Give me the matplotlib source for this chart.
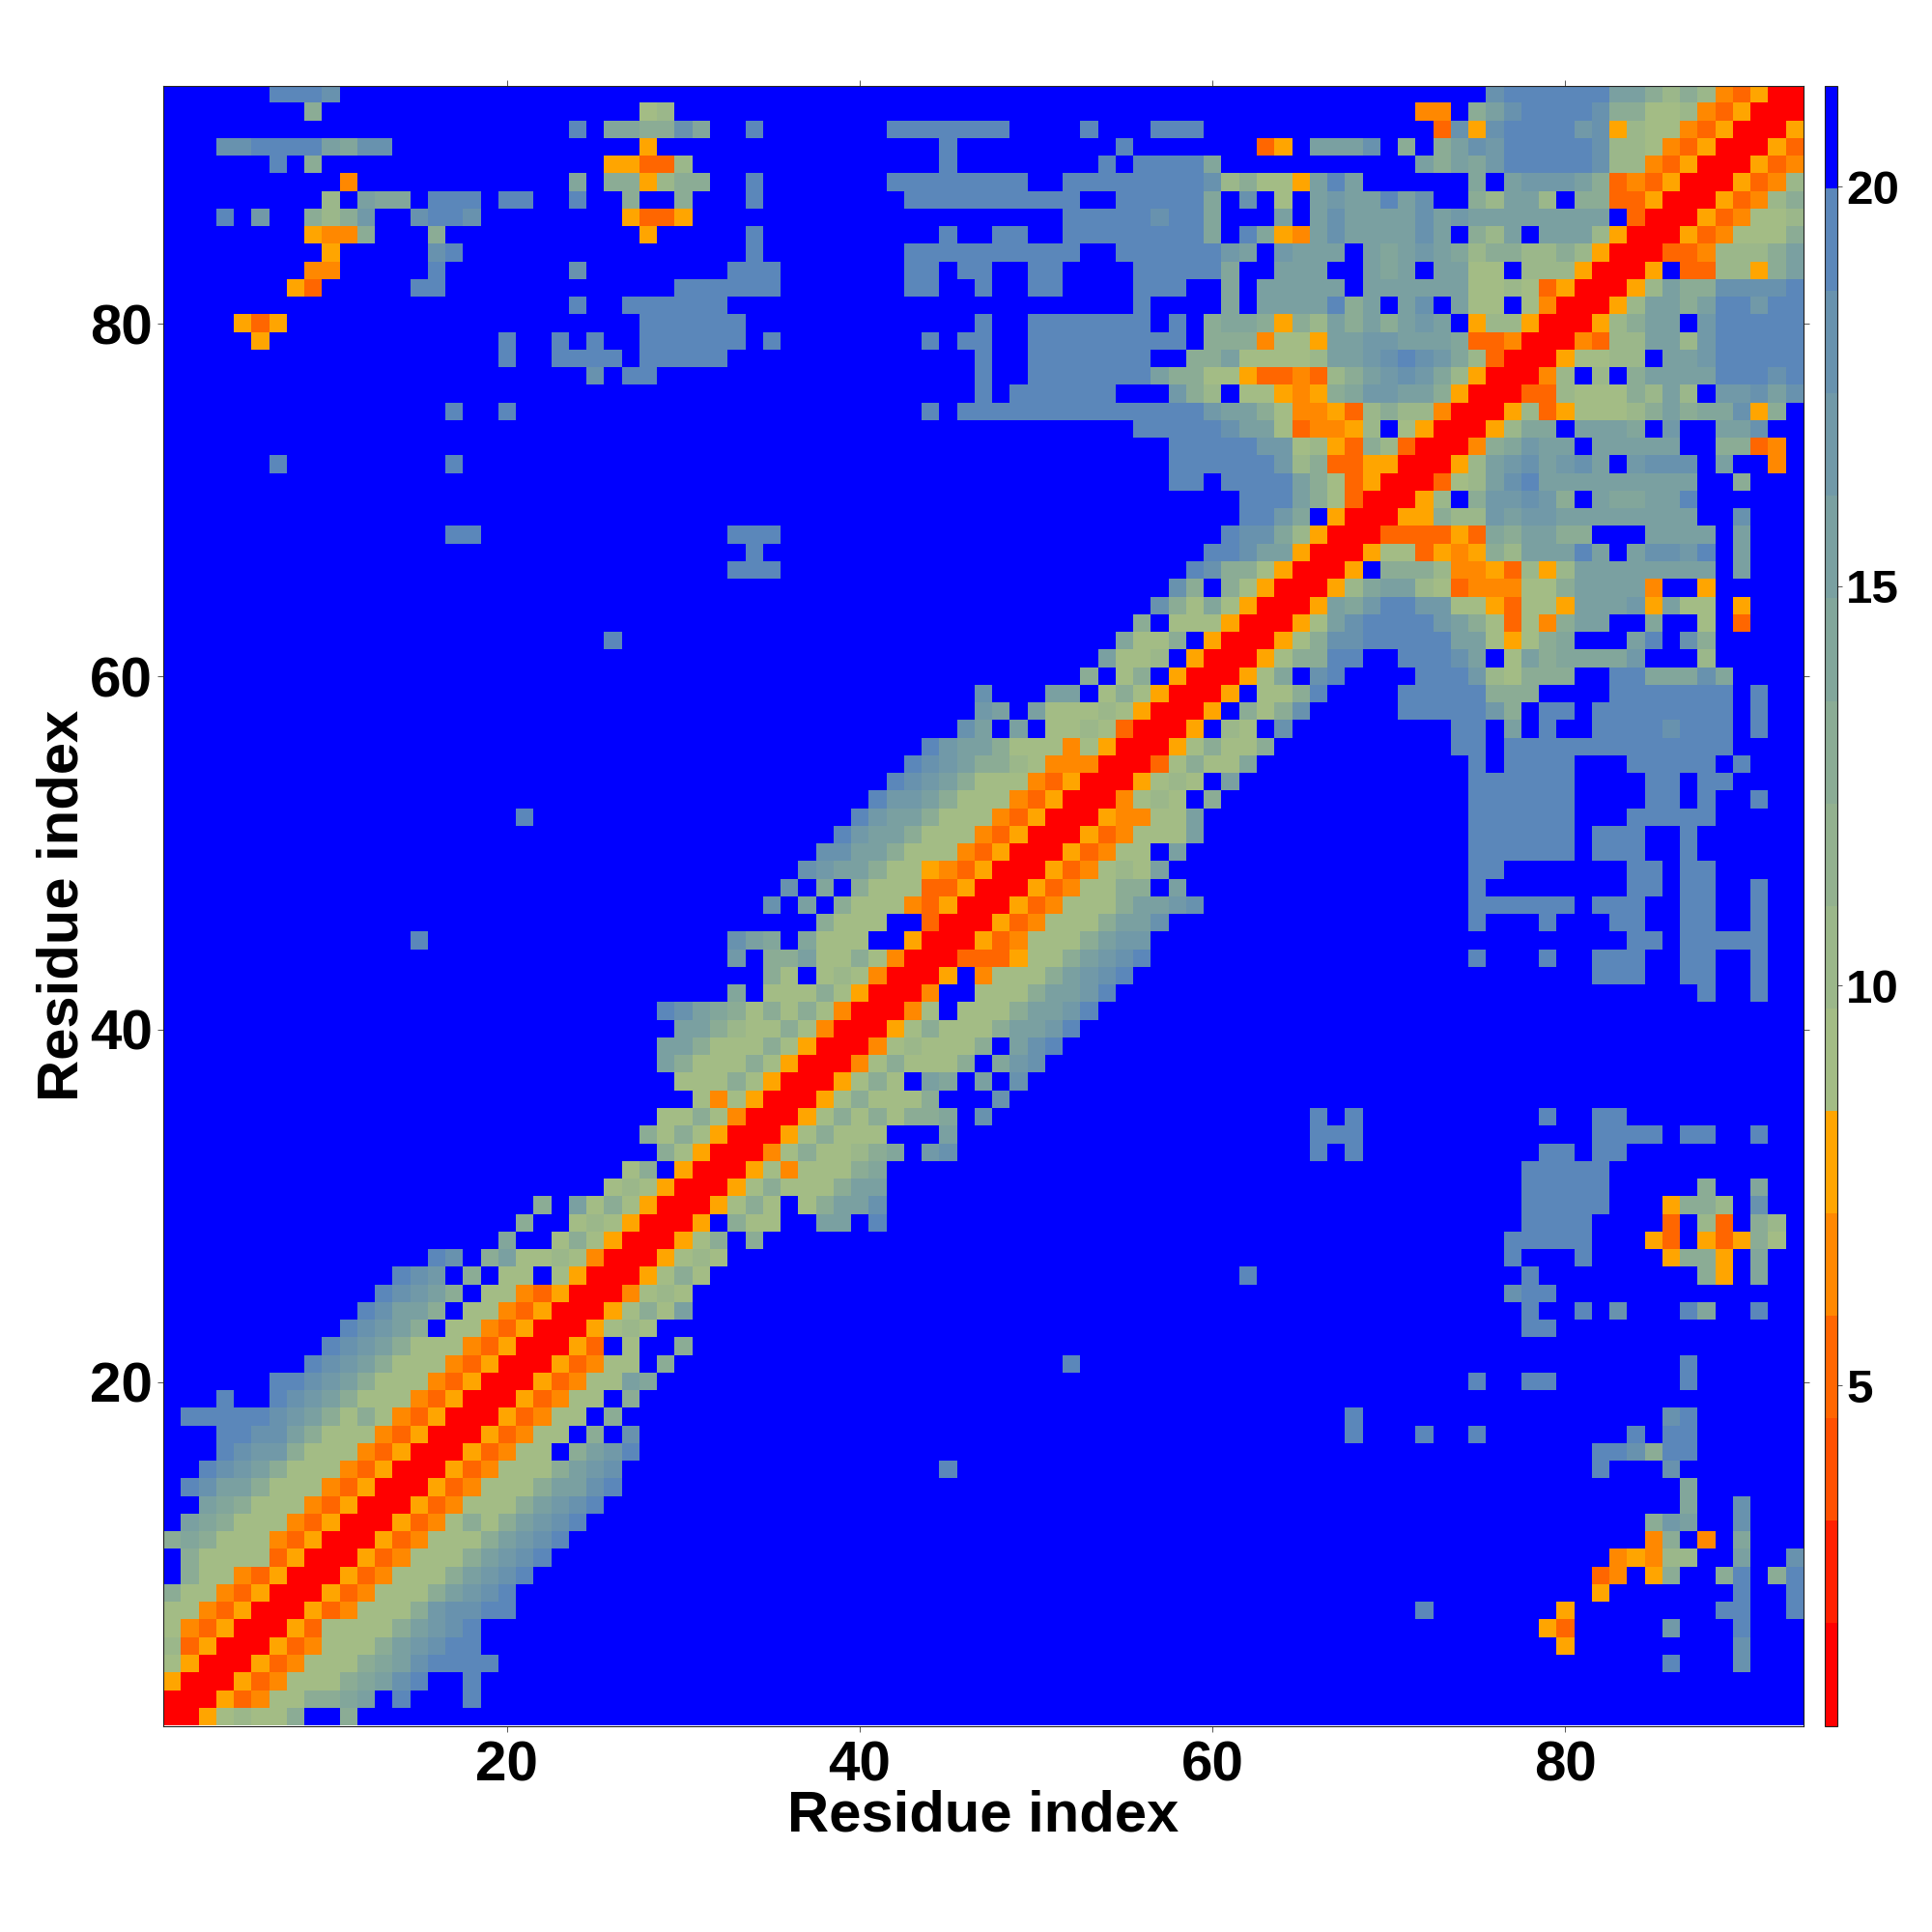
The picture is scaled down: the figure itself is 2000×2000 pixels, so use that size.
import numpy as np
import matplotlib
matplotlib.use("Agg")
import matplotlib.pyplot as plt
from matplotlib.colors import ListedColormap, BoundaryNorm

plt.rcParams['font.family'] = ['Liberation Sans', 'DejaVu Sans']
plt.rcParams['font.weight'] = 'bold'

n_res = 93

# colour steps of the palette, shortest distance first
palette = ['#ff0000', '#ff2000', '#ff5000', '#ff6600', '#ff8800', '#ffa500',
           '#a3bc85', '#9bb78a', '#93b18f', '#8bac95', '#82a69b', '#7aa0a1',
           '#7199a8', '#6892ae', '#5b87ba', '#0000ff']
bounds = [0.74 + 1.2825 * k for k in range(17)]

# code letter used in the rows below -> distance
code_dist = {'0': 1.4, '1': 2.7, '2': 4.0, '3': 5.2, '4': 6.5, '5': 7.8,
             '6': 9.1, '7': 10.4, '8': 12.9, '9': 14.2, 'a': 15.5, 'b': 16.8,
             'c': 18.1, 'd': 19.4, 'f': 21.0}

# row y holds residues x = y, y+1, ... (map is symmetric); the rest of the row is blue
band_rows = [
    "00567668ff8", "0053466889afdfffd", "0053466689acdffd", "0053466689acdddd",
    "005346668abcdd", "005366668abcd", "005346668bccdd", "005346668abcd",
    "005346668abcd", "005346668abcd", "005346668abcd", "005346868abcd",
    "005346668abcd", "005346668aacd", "005346668abc", "0053466f8abd",
    "0053466f8fc", "0053466f8", "0053466f8", "0053466a9",
    "0053466f8", "0053f6ff8", "005676", "005686a",
    "004676", "005686", "005676", "00568f8",
    "005f866ffaafd", "005686f68aac", "005686668aa", "0056466689",
    "0046866789fbc", "00568666fffa", "00568686889fc", "005686668fffc",
    "005686fa9fafc", "004686668f9bc", "004676668facd", "005686668aabd",
    "0046f6668aabd", "004ff6668aabd", "005f46668abcd", "003335668abcd",
    "005346668abb", "005346668aac", "005346668aabc", "005346688fa",
    "00534676a", "0053466fa", "00534666a", "0054466a",
    "004676f8", "005676fa", "00368669", "00568668",
    "005f76fc", "005f868c", "005f668d", "00569fcd",
    "005688dd", "00568ccdddddaa65689fffadfc8", "0056acddddba863648aaff9ff6f3",
    "005a9bddbb6653665aaab5a66f5", "00579aa763444668aaaa4ff5",
    "005f88874453757aaaaaaaafa", "00566354587aaadafaccbdfa",
    "003333539" + "8aa88fffaaaafa", "0055877babbaaaaaaaaffc",
    "0057f8bbcb8fa99aad", "00367acdaaaaaaaaaff8", "0057abcabcafbcccfaff4",
    "00489baafaaaaaff8834", "005799faaa9fbffaac", "00573566678a899c58",
    "0033766687a7fbbcac", "0047f7f8aaaadddcd", "0056677faabddddd",
    "004377aa7bddddd", "00578aafbddddd", "0057aa8addbdd", "0057a88ccccd",
    "005f337758a", "003347778a", "005346668", "00534667",
    "0053478", "005347", "00534", "0053", "005", "00", "0",
]

# contacts far from the diagonal: (row y, first x, codes)
far_runs = [
    (4, 86, "d"), (4, 90, "c"), (5, 80, "5"), (5, 90, "c"),
    (6, 79, "53"), (6, 86, "b"), (6, 90, "d"),
    (7, 72, "d"), (7, 80, "5"), (7, 89, "dd"), (7, 93, "d"),
    (8, 82, "5"), (8, 90, "d"), (8, 93, "d"),
    (9, 82, "34"), (9, 85, "58"), (9, 89, "8d"), (9, 92, "8d"),
    (10, 83, "45477"), (10, 90, "a"), (10, 93, "c"),
    (11, 85, "48f4"), (11, 90, "9"), (12, 85, "8ba"), (12, 90, "c"),
    (13, 87, "9"), (13, 90, "c"), (14, 87, "9"),
    (15, 45, "d"), (15, 82, "d"), (15, 86, "c"), (16, 82, "ddc8dd"),
    (17, 68, "d"), (17, 72, "d"), (17, 75, "d"), (17, 84, "d"), (17, 86, "dd"),
    (18, 68, "d"), (18, 86, "cd"),
    (20, 75, "d"), (20, 78, "dd"), (20, 87, "d"), (21, 52, "d"), (21, 87, "d"),
    (23, 78, "dd"),
    (24, 78, "d"), (24, 81, "d"), (24, 83, "c"), (24, 87, "d9"), (24, 91, "d"),
    (25, 77, "cdd"), (26, 62, "d"), (26, 78, "d"), (26, 88, "85"), (26, 91, "9"),
    (27, 77, "d"), (27, 81, "d"), (27, 86, "5885"), (27, 91, "9"),
    (28, 77, "ddddd"), (28, 85, "53f53586"),
    (29, 78, "dddd"), (29, 86, "3f73f87"),
    (30, 78, "ddddd"), (30, 86, "5887"), (30, 91, "c"),
    (31, 78, "ddddd"), (31, 88, "8"), (31, 91, "9"), (32, 78, "ddddd"),
    (33, 66, "d"), (33, 68, "d"), (33, 79, "dd"), (33, 82, "dd"),
    (34, 66, "ddd"), (34, 82, "dddd"), (34, 87, "dd"), (34, 91, "d"),
    (35, 66, "d"), (35, 68, "d"), (35, 79, "d"), (35, 82, "dd"),
    (42, 88, "d"), (42, 91, "d"),
    (43, 82, "ddd"), (43, 87, "dd"), (43, 91, "d"),
    (44, 75, "d"), (44, 79, "d"), (44, 82, "ddd"), (44, 87, "dd"), (44, 91, "d"),
    (45, 84, "dd"), (45, 87, "ddddd"),
    (46, 75, "d"), (46, 79, "d"), (46, 83, "dd"), (46, 87, "dd"), (46, 91, "d"),
    (47, 75, "dddddd"), (47, 82, "ddd"), (47, 87, "dd"), (47, 91, "d"),
    (48, 75, "d"), (48, 84, "dd"), (48, 87, "dd"), (48, 91, "d"),
    (49, 75, "dd"), (49, 84, "dd"), (49, 87, "dd"),
    (50, 75, "dddddd"), (50, 82, "ddd"), (50, 87, "d"),
    (51, 75, "dddddd"), (51, 82, "ddd"), (51, 87, "d"),
    (52, 75, "dddddd"), (52, 84, "ddddd"),
    (53, 75, "dddddd"), (53, 85, "dd"), (53, 88, "d"), (53, 91, "d"),
    (54, 75, "dddddd"), (54, 85, "dd"), (54, 88, "dd"),
    (55, 75, "d"), (55, 77, "dddd"), (55, 84, "ddddd"), (55, 90, "d"),
    (56, 74, "dd"), (56, 77, "ddddddddddddd"),
    (57, 74, "dd"), (57, 77, "a"), (57, 79, "d"), (57, 82, "ddddcddd"), (57, 91, "d"),
    (58, 71, "dddddb8"), (58, 79, "dd"), (58, 82, "dddddddd"), (58, 91, "d"),
    (59, 71, "ddddd888"), (59, 83, "ddddddd"), (59, 91, "d"),
    (60, 72, "dddb76888"), (60, 83, "dd999c9"),
    (61, 71, "dddca"), (61, 77, "6a89999b"), (61, 88, "7"),
]

ticks = [20, 40, 60, 80]
cb_ticks = [5, 10, 15, 20]

# build the map
dist = np.full((n_res, n_res), code_dist['f'])
for y, row in enumerate(band_rows):
    for k, c in enumerate(row):
        dist[y, y + k] = code_dist[c]
for y, x0, codes in far_runs:
    for k, c in enumerate(codes):
        dist[y - 1, x0 - 1 + k] = code_dist[c]
upper = np.triu_indices(n_res)
dist[(upper[1], upper[0])] = dist[upper]

cmap = ListedColormap(palette)
norm = BoundaryNorm(bounds, cmap.N)

fig = plt.figure(figsize=(20, 20), dpi=100)
ax = fig.add_axes([0.08425, 0.10675, 0.849, 0.84875])
im = ax.imshow(dist, origin='lower', cmap=cmap, norm=norm, aspect='auto',
               interpolation='nearest', extent=[0.5, n_res + 0.5, 0.5, n_res + 0.5])

ax.set_xticks(ticks)
ax.set_yticks(ticks)
ax.tick_params(axis='both', which='major', direction='out', length=4.5, width=0.7,
               color='#555555', top=True, right=True, labelsize=42, pad=6)
ax.tick_params(axis='y', pad=3)
for s in ax.spines.values():
    s.set_linewidth(0.8)
    s.set_color('#222222')
ax.set_xlabel("Residue index", fontsize=43, fontweight='bold', labelpad=-1.5)
ax.set_ylabel("Residue index", fontsize=43, fontweight='bold', labelpad=0.5)

cax = fig.add_axes([0.9445, 0.10675, 0.0065, 0.84875])
cb = fig.colorbar(im, cax=cax, ticks=cb_ticks, spacing='proportional')
cb.minorticks_off()
cb.ax.tick_params(direction='out', length=3.5, width=0.7, color='#555555', labelsize=35.5, pad=3)
cb.outline.set_linewidth(0.8)
cb.outline.set_edgecolor('#222222')
cb.ax.set_yticklabels([str(t) for t in cb_ticks])

fig.savefig("out.png", dpi=100)
